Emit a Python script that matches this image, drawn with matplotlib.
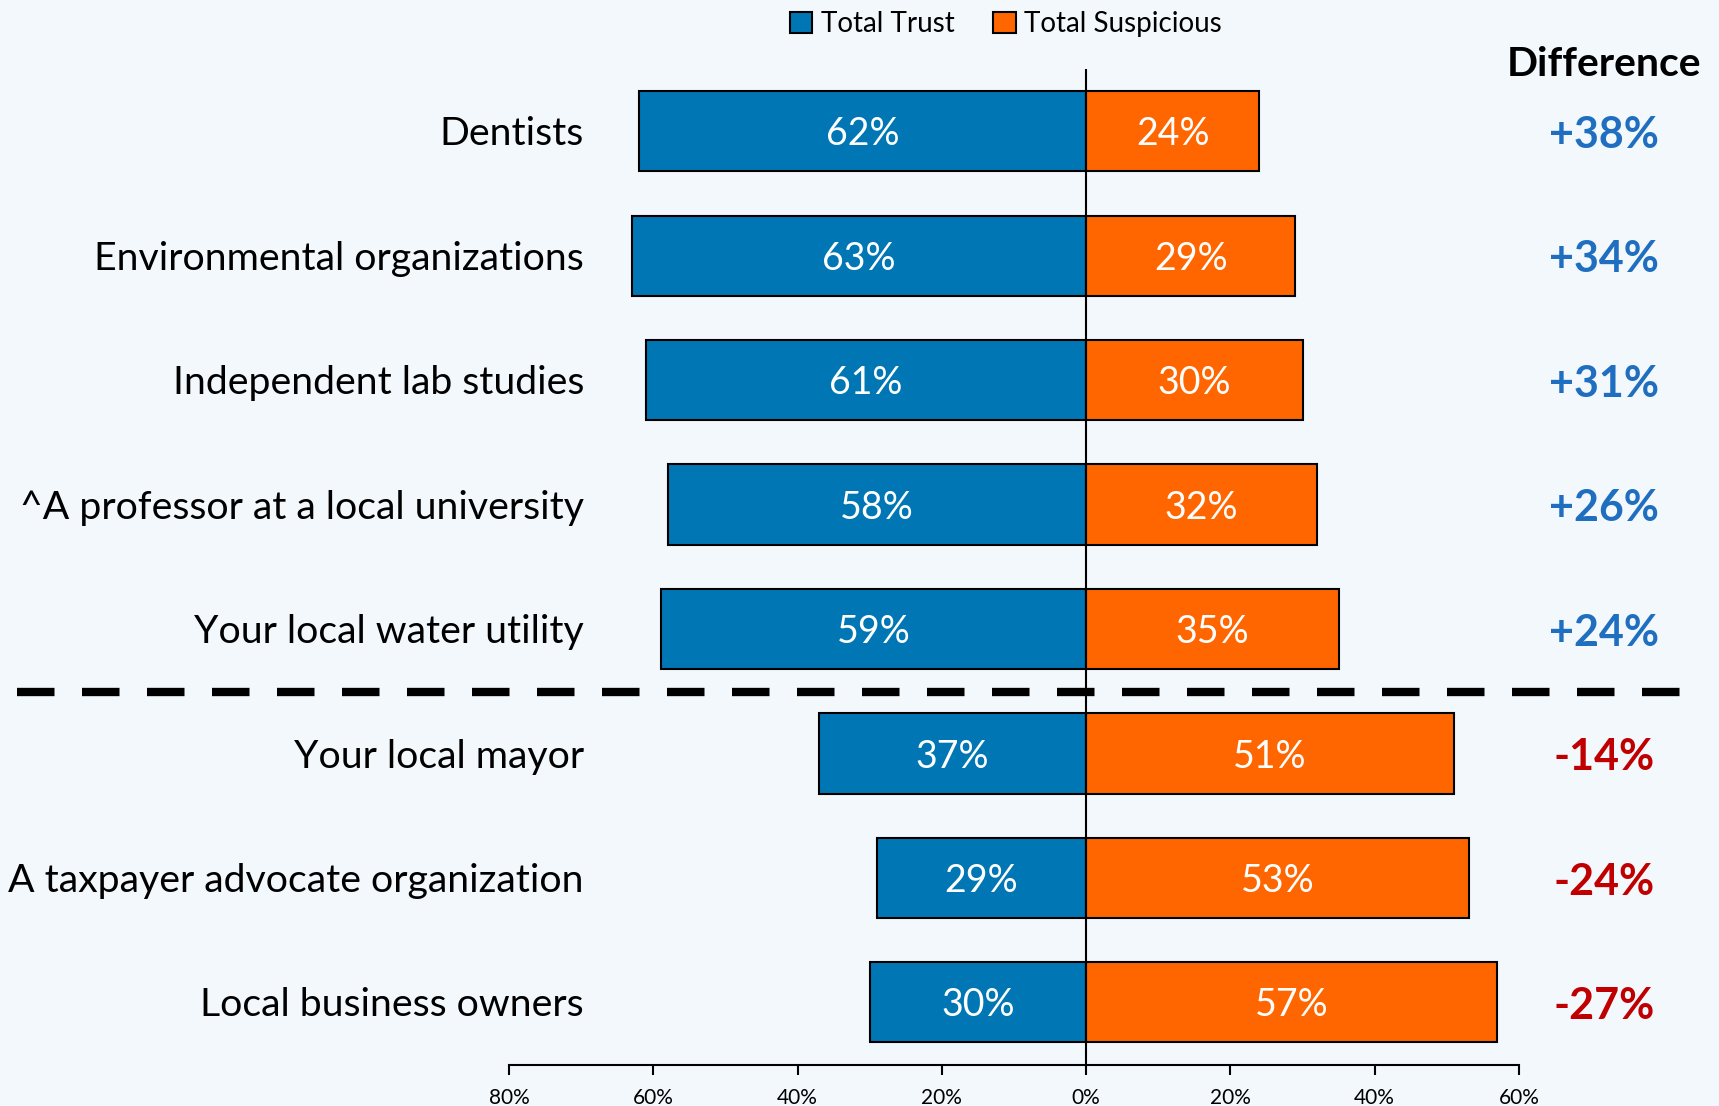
import matplotlib
matplotlib.use("Agg")
import matplotlib.pyplot as plt
from matplotlib.lines import Line2D
from matplotlib.patches import Patch
from matplotlib.transforms import blended_transform_factory

categories = ["Dentists", "Environmental organizations", "Independent lab studies",
              "^A professor at a local university", "Your local water utility",
              "Your local mayor", "A taxpayer advocate organization", "Local business owners"]
trust = [62, 63, 61, 58, 59, 37, 29, 30]
suspicious = [24, 29, 30, 32, 35, 51, 53, 57]
difference = ["+38%", "+34%", "+31%", "+26%", "+24%", "-14%", "-24%", "-27%"]
xticks = [-80, -60, -40, -20, 0, 20, 40, 60]
xticklabels = ["80%", "60%", "40%", "20%", "0%", "20%", "40%", "60%"]

BLUE = "#0077B4"
ORANGE = "#FF6600"
DIFF_BLUE = "#1F6EC0"
DIFF_RED = "#C00000"
BG = "#F2F8FC"
FONT = ["Lato", "DejaVu Sans"]

plt.rcParams['font.family'] = FONT

W, H = 1719, 1106
fig = plt.figure(figsize=(W / 100, H / 100), dpi=100, facecolor=BG)
ax = fig.add_axes([509 / W, 41.5 / H, 1010 / W, (1064.5 - 69) / H])
ax.set_facecolor("none")

y = list(range(len(categories)))
neg_trust = [-t for t in trust]
ax.barh(y, neg_trust, height=0.645, color=BLUE, edgecolor="black", linewidth=1.5, zorder=2)
ax.barh(y, suspicious, height=0.645, color=ORANGE, edgecolor="black", linewidth=1.5, zorder=2)

dy = 0.025
for i in y:
    ax.text(-trust[i] / 2, i + dy, f"{trust[i]}%", ha="center", va="center",
            color="white", fontsize=27, zorder=3)
    ax.text(suspicious[i] / 2, i + dy, f"{suspicious[i]}%", ha="center", va="center",
            color="white", fontsize=27, zorder=3)

ax.set_xlim(-80, 60)
ax.set_ylim(len(categories) - 0.5, -0.5)
ax.axvline(0, color="black", linewidth=1.5, zorder=4)

# category labels (right edge inside the axes area, as in the reference)
lab_tr = blended_transform_factory(fig.transFigure, ax.transData)
for i, c in enumerate(categories):
    ax.text(584 / W, i + dy, c, transform=lab_tr, ha="right", va="center",
            fontsize=28.3, color="black")
ax.set_yticks([])

ax.set_xticks(xticks)
ax.set_xticklabels(xticklabels, fontsize=15)
ax.tick_params(axis="x", direction="out", length=7, width=1.5, pad=10)

for s in ["top", "right", "left"]:
    ax.spines[s].set_visible(False)
ax.spines["bottom"].set_linewidth(1.5)

# Difference column
diff_x = 1604 / W
fig.text(diff_x, 1 - 64 / H, "Difference", ha="center", va="center",
         fontsize=29.5, fontweight="bold", color="black")
for i, d in enumerate(difference):
    col = DIFF_BLUE if d.startswith("+") else DIFF_RED
    ax.text(diff_x, i + 0.03, d, transform=lab_tr,
            ha="center", va="center", fontsize=31, fontweight="bold", color=col)

# Dashed separator
fig.add_artist(Line2D([17 / W, 1687 / W], [1 - 692 / H, 1 - 692 / H],
                      transform=fig.transFigure, color="black", linewidth=6,
                      dashes=(4.5, 3.3), solid_capstyle="butt", dash_capstyle="butt"))

# Legend
handles = [Patch(facecolor=BLUE, edgecolor="black", linewidth=1.5, label="Total Trust"),
           Patch(facecolor=ORANGE, edgecolor="black", linewidth=1.5, label="Total Suspicious")]
fig.legend(handles=handles, loc="center", bbox_to_anchor=(1006 / W, 1 - 24 / H),
           ncol=2, frameon=False, fontsize=20, handlelength=0.8, handleheight=0.8,
           handletextpad=0.3, columnspacing=1.4)

fig.savefig("out.png", dpi=100, facecolor=BG)
